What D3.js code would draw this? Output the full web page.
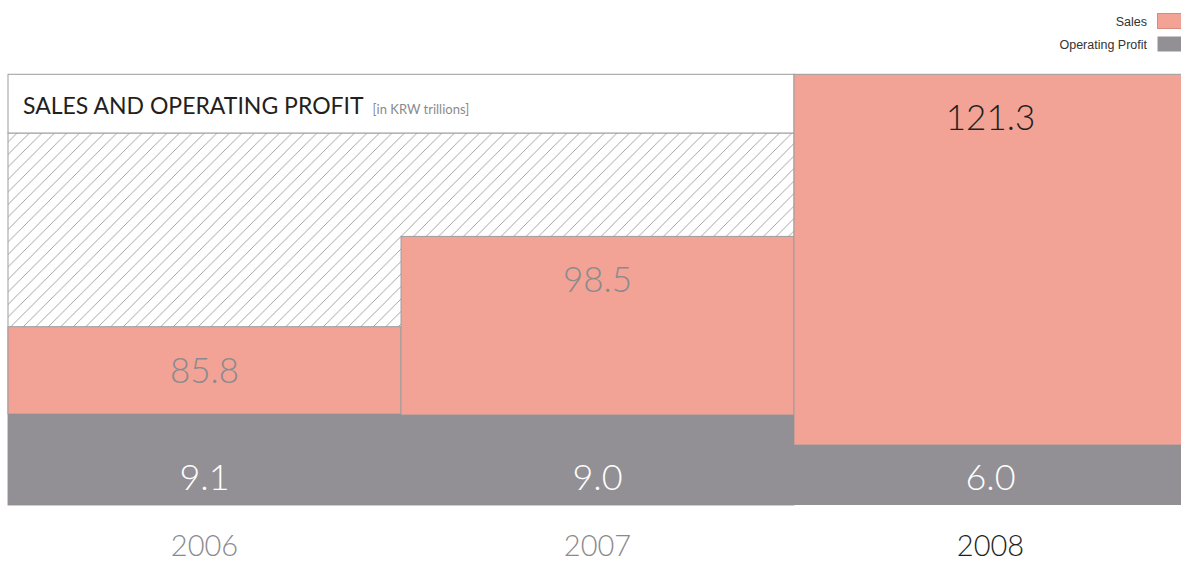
<!doctype html>
<html>
<head>
<meta charset="utf-8">
<title>Sales and Operating Profit</title>
<script src="https://cdn.jsdelivr.net/npm/d3@7/dist/d3.min.js"></script>
<style>
  body { margin: 0; background: #fff; }
  svg { display: block; }
</style>
</head>
<body>
<script>

    // data
    var years = ["2006", "2007", "2008"];
    var sales = [85.8, 98.5, 121.3];
    var profit = [9.1, 9.0, 6.0];
    var seriesNames = ["Sales", "Operating Profit"];

    var width = 1181, height = 562;
    var salmon = "#f2a395", grey = "#929094", border = "#9d9d9d";
    var font = "Lato, 'Open Sans', sans-serif";

    var svg = d3.select("body").append("svg")
        .attr("width", width)
        .attr("height", height);

    // columns (last one runs off the right edge)
    var x = d3.scaleBand()
        .domain(years)
        .range([8, 1187])
        .padding(0);

    // top edge of each sales block (truncated axis)
    var ySales = d3.scaleLinear()
        .domain([85.8, 121.3])
        .range([326.7, 74.3]);

    // operating profit, from the floor
    var yProfit = d3.scaleLinear()
        .domain([0, 10])
        .range([505, 405]);

    var rows = years.map(function (y, i) {
        return { year: y, sales: sales[i], profit: profit[i] };
    });

    // hatch pattern
    var defs = svg.append("defs");
    var pat = defs.append("pattern")
        .attr("id", "hatch")
        .attr("patternUnits", "userSpaceOnUse")
        .attr("width", 12.5)
        .attr("height", 12.5);
    pat.append("path")
        .attr("d", "M-1,1 l2,-2 M0,12.5 l12.5,-12.5 M11.5,13.5 l2,-2")
        .attr("stroke", "#8c8c8c")
        .attr("stroke-width", 0.8);

    // hatched background behind first two columns
    var titleBottom = 133;
    svg.append("rect")
        .attr("x", x("2006"))
        .attr("y", titleBottom)
        .attr("width", x("2008") - x("2006"))
        .attr("height", yProfit(0) - titleBottom)
        .attr("fill", "url(#hatch)")
        .attr("stroke", border)
        .attr("stroke-width", 1);

    // title box
    svg.append("rect")
        .attr("x", x("2006"))
        .attr("y", ySales(121.3))
        .attr("width", x("2008") - x("2006"))
        .attr("height", titleBottom - ySales(121.3))
        .attr("fill", "#fff")
        .attr("stroke", border)
        .attr("stroke-width", 1);

    var title = svg.append("text")
        .attr("x", 23)
        .attr("y", 114)
        .attr("font-family", font)
        .attr("font-size", "23px")
        .attr("fill", "#231f20");
    title.append("tspan")
        .text("SALES AND OPERATING PROFIT");
    title.append("tspan")
        .attr("dx", 9)
        .attr("font-size", "13px")
        .attr("fill", "#8a8a8e")
        .text("[in KRW trillions]");

    // sales blocks
    svg.selectAll("rect.sales")
        .data(rows)
        .enter().append("rect")
        .attr("class", "sales")
        .attr("x", function (d) { return x(d.year); })
        .attr("y", function (d) { return ySales(d.sales); })
        .attr("width", x.bandwidth())
        .attr("height", function (d) { return yProfit(d.profit) - ySales(d.sales); })
        .attr("fill", salmon)
        .attr("stroke", border)
        .attr("stroke-width", 1);

    // operating profit blocks
    svg.selectAll("rect.profit")
        .data(rows)
        .enter().append("rect")
        .attr("class", "profit")
        .attr("x", function (d) { return x(d.year); })
        .attr("y", function (d) { return yProfit(d.profit); })
        .attr("width", x.bandwidth())
        .attr("height", function (d) { return yProfit(0) - yProfit(d.profit); })
        .attr("fill", grey);

    // sales labels
    svg.selectAll("text.sales")
        .data(rows)
        .enter().append("text")
        .attr("class", "sales")
        .attr("x", function (d) { return x(d.year) + x.bandwidth() / 2; })
        .attr("y", function (d) { return ySales(d.sales) + 56; })
        .attr("text-anchor", "middle")
        .attr("font-family", font)
        .attr("font-weight", 300)
        .attr("font-size", "35px")
        .attr("fill", function (d, i) { return i === rows.length - 1 ? "#231f20" : "#8a8a8e"; })
        .text(function (d) { return d.sales.toFixed(1); });

    // profit labels
    svg.selectAll("text.profit")
        .data(rows)
        .enter().append("text")
        .attr("class", "profit")
        .attr("x", function (d) { return x(d.year) + x.bandwidth() / 2; })
        .attr("y", 490)
        .attr("text-anchor", "middle")
        .attr("font-family", font)
        .attr("font-weight", 300)
        .attr("font-size", "36px")
        .attr("fill", "#fff")
        .text(function (d) { return d.profit.toFixed(1); });

    // year axis
    var xAxis = svg.append("g")
        .attr("transform", "translate(0,556)")
        .call(d3.axisBottom(x).tickSize(0).tickPadding(0));
    xAxis.select(".domain").remove();
    xAxis.selectAll("text")
        .attr("dy", 0)
        .attr("font-family", font)
        .attr("font-weight", 300)
        .attr("font-size", "29px")
        .attr("fill", function (d, i) { return i === years.length - 1 ? "#231f20" : "#8a8a8e"; });

    // legend
    var legend = svg.selectAll("g.legend")
        .data(seriesNames)
        .enter().append("g")
        .attr("class", "legend")
        .attr("transform", function (d, i) { return "translate(0," + (i * 23) + ")"; });
    legend.append("rect")
        .attr("x", 1157.5)
        .attr("y", 13.5)
        .attr("width", 24)
        .attr("height", 15)
        .attr("fill", function (d, i) { return i === 0 ? salmon : grey; })
        .attr("stroke", function (d, i) { return i === 0 ? "#d98a7d" : "none"; })
        .attr("stroke-width", 1);
    legend.append("text")
        .attr("x", 1147)
        .attr("y", 25.5)
        .attr("text-anchor", "end")
        .attr("font-family", "'Liberation Sans', Arial, sans-serif")
        .attr("font-size", "12.5px")
        .attr("fill", "#333")
        .text(function (d) { return d; });

</script>
</body>
</html>
